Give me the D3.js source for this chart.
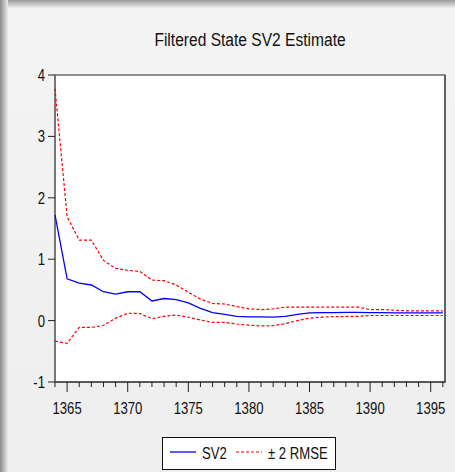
<!DOCTYPE html>
<html>
<head>
<meta charset="utf-8">
<script src="https://cdn.jsdelivr.net/npm/d3@7.9.0/dist/d3.min.js"></script>
<style>
  html, body { margin: 0; padding: 0; background: #f2f2f2; }
  svg { display: block; font-family: "Liberation Sans", Arial, sans-serif; }
</style>
</head>
<body>
<svg width="455" height="472"></svg>
<script>
// yearly observations, 1364..1396
const years = d3.range(1364, 1397);
const sv2 = [1.72, 0.68, 0.61, 0.58, 0.47, 0.43, 0.47, 0.47, 0.32, 0.36,
  0.34, 0.29, 0.20, 0.13, 0.10, 0.07, 0.06, 0.06, 0.055, 0.07,
  0.10, 0.125, 0.13, 0.13, 0.135, 0.135, 0.13, 0.13, 0.125, 0.125,
  0.125, 0.125, 0.125];
const upper = [3.78, 1.69, 1.31, 1.31, 0.98, 0.85, 0.82, 0.80, 0.66, 0.65,
  0.58, 0.46, 0.35, 0.28, 0.27, 0.23, 0.19, 0.18, 0.19, 0.22,
  0.22, 0.22, 0.22, 0.22, 0.22, 0.22, 0.18, 0.18, 0.17, 0.16,
  0.16, 0.16, 0.16];
const lower = [-0.335, -0.37, -0.11, -0.11, -0.08, 0.04, 0.12, 0.115, 0.03, 0.07,
  0.09, 0.055, 0.01, -0.03, -0.03, -0.055, -0.075, -0.086, -0.083, -0.05,
  0.0, 0.04, 0.055, 0.065, 0.067, 0.07, 0.083, 0.083, 0.083, 0.083,
  0.083, 0.083, 0.083];
const yTicks = [-1, 0, 1, 2, 3, 4];
const xLabels = [1365, 1370, 1375, 1380, 1385, 1390, 1395];

const svg = d3.select("svg");
const W = 455, H = 472;
const pLeft = 55, pRight = 445, pTop = 75, pBottom = 382;
const narrow = 0.82; // squeeze Liberation Sans to look like a narrow face

// text helper: condensed text placed at (tx, ty)
function label(parent, tx, ty, str, size, anchor) {
  return parent.append("text")
    .attr("transform", `translate(${tx},${ty}) scale(${narrow},1)`)
    .attr("text-anchor", anchor || "start")
    .attr("font-size", size)
    .attr("fill", "#111")
    .text(str);
}

// background with window shadow
const defs = svg.append("defs");
const gTop = defs.append("linearGradient").attr("id", "shTop").attr("x1", 0).attr("y1", 0).attr("x2", 0).attr("y2", 1);
gTop.append("stop").attr("offset", "0%").attr("stop-color", "#9a9a9a");
gTop.append("stop").attr("offset", "100%").attr("stop-color", "#efefef");
const gLeft = defs.append("linearGradient").attr("id", "shLeft").attr("x1", 0).attr("y1", 0).attr("x2", 1).attr("y2", 0);
gLeft.append("stop").attr("offset", "0%").attr("stop-color", "#8a8a8a");
gLeft.append("stop").attr("offset", "100%").attr("stop-color", "#ececec");
const gBg = defs.append("linearGradient").attr("id", "bg").attr("x1", 0).attr("y1", 0).attr("x2", 0).attr("y2", 1);
gBg.append("stop").attr("offset", "0%").attr("stop-color", "#f4f4f4");
gBg.append("stop").attr("offset", "100%").attr("stop-color", "#eeeeee");

svg.append("rect").attr("width", W).attr("height", H).attr("fill", "url(#bg)");
svg.append("rect").attr("width", W).attr("height", 8).attr("fill", "url(#shTop)");
svg.append("rect").attr("width", 8).attr("height", H).attr("fill", "url(#shLeft)");

// title
label(svg, 250, 46, "Filtered State SV2 Estimate", 19, "middle");

const x = d3.scaleLinear().domain([1364, 1396.18]).range([pLeft, pRight]);
const y = d3.scaleLinear().domain([-1, 4]).range([pBottom, pTop]);

// plot area
svg.append("rect")
  .attr("x", pLeft).attr("y", pTop)
  .attr("width", pRight - pLeft).attr("height", pBottom - pTop)
  .attr("fill", "#fff")
  .attr("stroke", "#222").attr("stroke-width", 1);
svg.append("line")
  .attr("x1", pLeft).attr("x2", pLeft).attr("y1", pTop).attr("y2", pBottom)
  .attr("stroke", "#777").attr("stroke-width", 2);
svg.append("line")
  .attr("x1", pRight).attr("x2", pRight).attr("y1", pTop).attr("y2", pBottom + 1)
  .attr("stroke", "#555").attr("stroke-width", 1.5);

// y axis
const yAxis = svg.append("g");
yTicks.forEach(t => {
  yAxis.append("line")
    .attr("x1", pLeft - 7).attr("x2", pLeft)
    .attr("y1", y(t)).attr("y2", y(t))
    .attr("stroke", "#222");
  label(yAxis, pLeft - 10, y(t) + 6, t, 16, "end");
});

// x axis
const xAxis = svg.append("g");
xAxis.append("line")
  .attr("x1", pLeft).attr("x2", pRight).attr("y1", pBottom).attr("y2", pBottom)
  .attr("stroke", "#222");
years.forEach(t => {
  const major = t % 5 === 0;
  xAxis.append("line")
    .attr("x1", x(t)).attr("x2", x(t))
    .attr("y1", pBottom).attr("y2", pBottom + (major ? 10 : 5))
    .attr("stroke", "#222");
});
xLabels.forEach(t => {
  label(xAxis, x(t), 414, t, 16, "middle");
});

// series
const line = d3.line().x((d, i) => x(years[i])).y(d => y(d));
svg.append("path").datum(upper)
  .attr("d", line).attr("fill", "none")
  .attr("stroke", "#ff0000").attr("stroke-width", 1.2)
  .attr("stroke-dasharray", "3,2");
svg.append("path").datum(lower)
  .attr("d", line).attr("fill", "none")
  .attr("stroke", "#ff0000").attr("stroke-width", 1.2)
  .attr("stroke-dasharray", "3,2");
svg.append("path").datum(sv2)
  .attr("d", line).attr("fill", "none")
  .attr("stroke", "#0000ff").attr("stroke-width", 1.3);

// legend
const lg = svg.append("g");
lg.append("rect")
  .attr("x", 162.5).attr("y", 437.5).attr("width", 173).attr("height", 32)
  .attr("fill", "#fff").attr("stroke", "#111");
lg.append("line")
  .attr("x1", 170).attr("x2", 196).attr("y1", 452).attr("y2", 452)
  .attr("stroke", "#0000ff").attr("stroke-width", 1.3);
label(lg, 202, 459, "SV2", 16);
lg.append("line")
  .attr("x1", 236).attr("x2", 262).attr("y1", 452).attr("y2", 452)
  .attr("stroke", "#ff0000").attr("stroke-width", 1.2)
  .attr("stroke-dasharray", "3,2");
label(lg, 268, 459, "± 2 RMSE", 16);
</script>
</body>
</html>
